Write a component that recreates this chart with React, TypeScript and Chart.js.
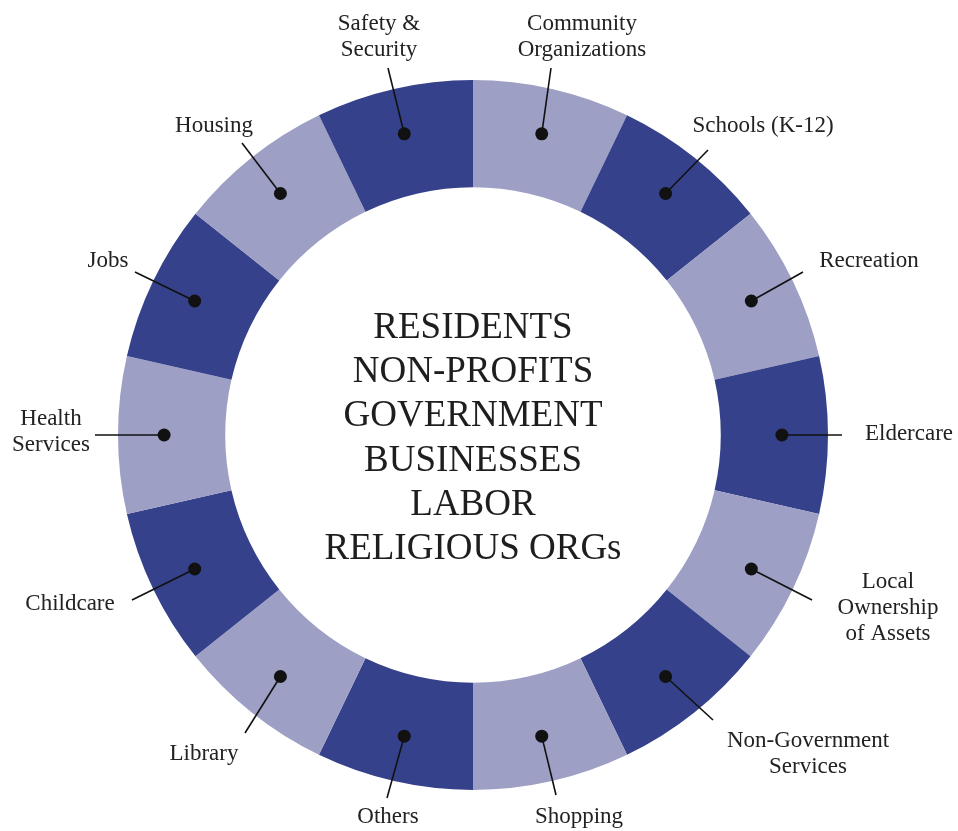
import React, { useEffect, useRef } from "react";
import { Chart, registerables } from "chart.js";

Chart.register(...registerables);

// ---- data ----
const categories: string[][] = [
  ["Community", "Organizations"],
  ["Schools (K-12)"],
  ["Recreation"],
  ["Eldercare"],
  ["Local", "Ownership", "of Assets"],
  ["Non-Government", "Services"],
  ["Shopping"],
  ["Others"],
  ["Library"],
  ["Childcare"],
  ["Health", "Services"],
  ["Jobs"],
  ["Housing"],
  ["Safety &", "Security"],
];
const values: number[] = [1, 1, 1, 1, 1, 1, 1, 1, 1, 1, 1, 1, 1, 1];
const centerLines: string[] = [
  "RESIDENTS",
  "NON-PROFITS",
  "GOVERNMENT",
  "BUSINESSES",
  "LABOR",
  "RELIGIOUS ORGs",
];

// ---- styles / layout (separate from data) ----
const LIGHT = "#9d9fc5";
const DARK = "#35418a";
const segmentColors: string[] = [
  LIGHT, DARK, LIGHT, DARK, LIGHT, DARK, LIGHT,
  DARK, LIGHT, DARK, LIGHT, DARK, LIGHT, DARK,
];
// text anchor (centre x, first baseline y) relative to the doughnut centre
const labelTextOffsets: [number, number][] = [
  [109, -405], [290, -303], [396, -168], [436, 5], [415, 153], [335, 312], [106, 388],
  [-85, 388], [-269, 325], [-403, 175], [-422, -10], [-365, -168], [-259, -303], [-94, -405],
];
// leader line end relative to the doughnut centre
const leaderEndOffsets: [number, number][] = [
  [78, -367], [235, -285], [330, -163], [369, 0], [339, 165], [240, 285], [83, 360],
  [-86, 363], [-228, 298], [-341, 165], [-378, 0], [-338, -163], [-231, -292], [-85, -367],
];

const LABEL_FONT = "23px 'Liberation Serif', serif";
const CENTER_FONT = "37px 'Liberation Serif', serif";

const labelPlugin = {
  id: "ringLabels",
  afterDraw(chart: any) {
    const ctx: CanvasRenderingContext2D = chart.ctx;
    const meta = chart.getDatasetMeta(0);
    ctx.save();
    let cx = 0;
    let cy = 0;
    meta.data.forEach((arc: any, i: number) => {
      const p = arc.getProps(["x", "y", "startAngle", "endAngle", "innerRadius", "outerRadius"], true);
      cx = p.x;
      cy = p.y;
      const mid = (p.startAngle + p.endAngle) / 2;
      const r = p.innerRadius + (p.outerRadius - p.innerRadius) * 0.57;
      const dx = p.x + Math.cos(mid) * r;
      const dy = p.y + Math.sin(mid) * r;
      const [ex, ey] = leaderEndOffsets[i];
      ctx.strokeStyle = "#111111";
      ctx.lineWidth = 1.6;
      ctx.beginPath();
      ctx.moveTo(dx, dy);
      ctx.lineTo(p.x + ex, p.y + ey);
      ctx.stroke();
      ctx.fillStyle = "#111111";
      ctx.beginPath();
      ctx.arc(dx, dy, 6.5, 0, Math.PI * 2);
      ctx.fill();

      const [tx, ty] = labelTextOffsets[i];
      ctx.font = LABEL_FONT;
      ctx.fillStyle = "#222222";
      ctx.textAlign = "center";
      ctx.textBaseline = "alphabetic";
      const lines = chart.data.labels[i] as string[];
      lines.forEach((ln: string, k: number) => {
        ctx.fillText(ln, p.x + tx, p.y + ty + k * 26);
      });
    });

    ctx.font = CENTER_FONT;
    ctx.fillStyle = "#1e1e1e";
    ctx.textAlign = "center";
    ctx.textBaseline = "alphabetic";
    centerLines.forEach((ln, k) => {
      ctx.fillText(ln, cx, cy - 97 + k * 44.2);
    });
    ctx.restore();
  },
};

export default function App() {
  const ref = useRef<HTMLCanvasElement | null>(null);
  useEffect(() => {
    if (!ref.current) return;
    const chart = new Chart(ref.current, {
      type: "doughnut",
      data: {
        labels: categories,
        datasets: [
          {
            data: values,
            backgroundColor: segmentColors,
            borderWidth: 0,
            hoverOffset: 0,
          },
        ],
      },
      options: {
        responsive: false,
        animation: false,
        events: [],
        cutout: "69.8%",
        layout: { padding: { left: 118, right: 130, top: 80, bottom: 41 } },
        plugins: {
          legend: { display: false },
          tooltip: { enabled: false },
        },
      },
      plugins: [labelPlugin],
    });
    return () => chart.destroy();
  }, []);
  return (
    <div style={{ position: "fixed", left: 0, top: 0, width: 958, height: 831, background: "#ffffff" }}>
      <canvas ref={ref} width={958} height={831} style={{ width: 958, height: 831 }} />
    </div>
  );
}
